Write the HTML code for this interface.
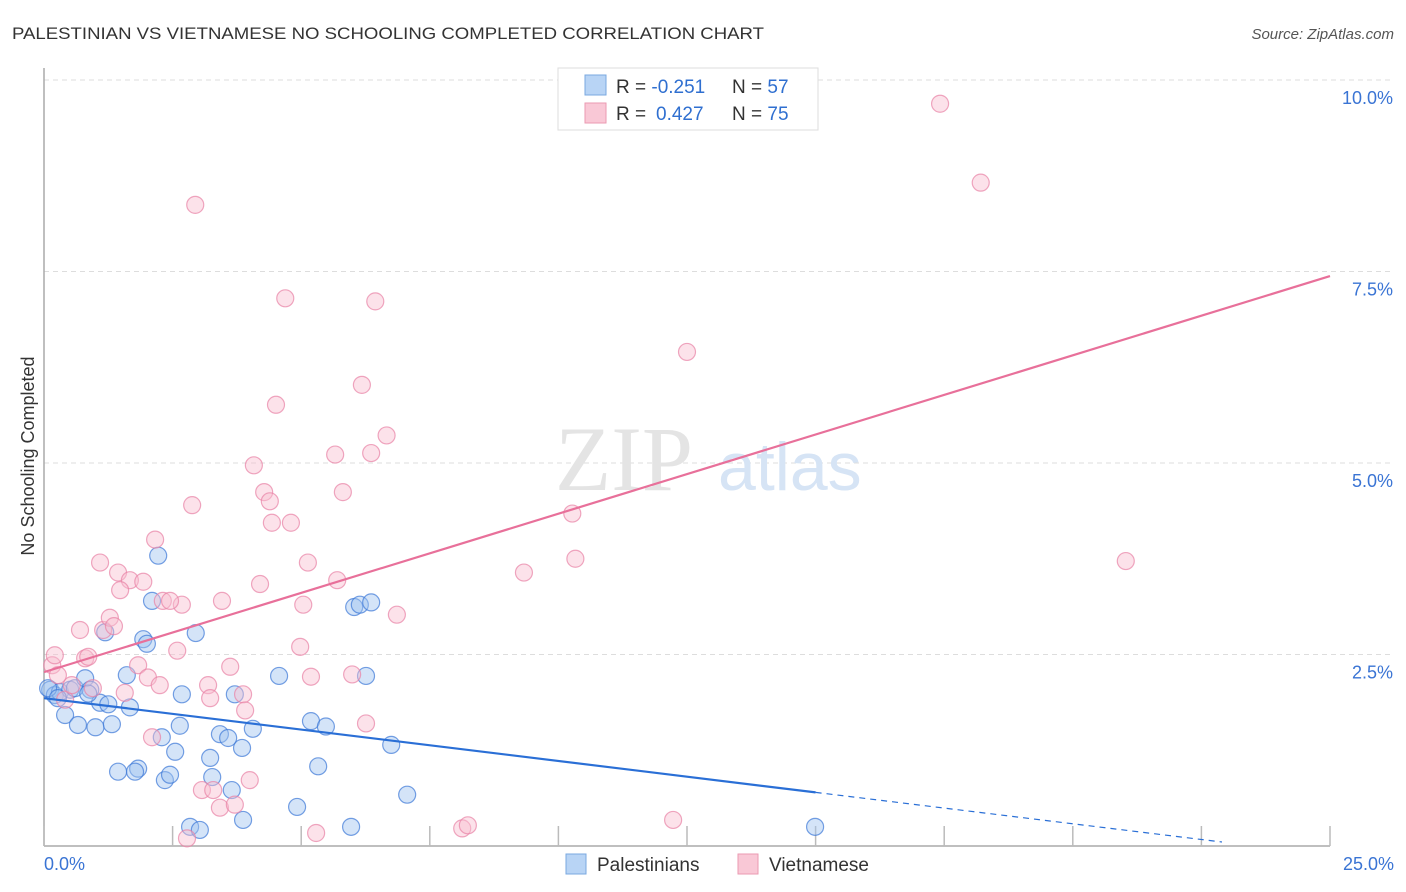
<!DOCTYPE html>
<html><head><meta charset="utf-8"><style>
body{margin:0;background:#fff;font-family:"Liberation Sans",sans-serif;}
svg{display:block}
</style></head><body>
<svg id="c" width="1406" height="892" xmlns="http://www.w3.org/2000/svg">
<text x="12" y="39" font-size="17" fill="#333" textLength="752" lengthAdjust="spacingAndGlyphs">PALESTINIAN VS VIETNAMESE NO SCHOOLING COMPLETED CORRELATION CHART</text>
<text x="1394" y="39" font-size="15" fill="#555" font-style="italic" text-anchor="end">Source: ZipAtlas.com</text>
<text x="34" y="456" font-size="18" fill="#333" text-anchor="middle" transform="rotate(-90 34 456)">No Schooling Completed</text>
<g id="grid"></g>
<text x="555" y="490" font-size="92" fill="#e4e4e4" font-family="Liberation Serif,serif">ZIP</text>
<text x="718" y="490" font-size="68" fill="#d6e4f5">atlas</text>
<g id="axes"></g>
<g id="pts"></g>
<g id="trend"></g>
<g>
<rect x="558" y="68" width="260" height="62" fill="#fff" stroke="#ddd"/>
<rect x="585" y="75" width="21" height="20" fill="#b8d4f5" stroke="#7aa8e0"/>
<rect x="585" y="103" width="21" height="20" fill="#f9c8d6" stroke="#eb9ab2"/>
<text x="616" y="93" font-size="19" fill="#333">R = <tspan fill="#2f6fd0">-0.251</tspan><tspan x="732">N = </tspan><tspan fill="#2f6fd0">57</tspan></text>
<text x="616" y="120" font-size="19" fill="#333">R = <tspan x="656" fill="#2f6fd0">0.427</tspan><tspan x="732">N = </tspan><tspan fill="#2f6fd0">75</tspan></text>
</g>
<g>
<rect x="566" y="854" width="20" height="20" fill="#b8d4f5" stroke="#7aa8e0"/>
<text x="597" y="871" font-size="19" fill="#333">Palestinians</text>
<rect x="738" y="854" width="20" height="20" fill="#f9c8d6" stroke="#eb9ab2"/>
<text x="769" y="871" font-size="19" fill="#333">Vietnamese</text>
</g>
</svg>
<script>
const xTicks=[0,2.5,5,7.5,10,12.5,15,17.5,20,22.5,25];
const yTicks=[2.5,5,7.5,10];
const yTickLabels=["2.5%","5.0%","7.5%","10.0%"];
const palX=[0.12,0.21,0.31,0.41,0.51,0.6,0.66,0.8,0.9,1,1.09,1.19,1.25,1.32,1.44,1.61,1.67,1.83,1.93,2.0,2.1,2.22,2.29,2.35,2.45,2.55,2.64,2.68,2.84,2.95,3.03,3.23,3.27,3.42,3.58,3.65,3.71,3.85,3.87,4.06,4.57,4.92,5.19,5.33,5.48,5.97,6.03,6.14,6.26,6.36,6.75,7.06,14.99,0.08,0.27,0.86,1.77];
const palY=[2.04,1.97,2.01,1.71,2.04,2.06,1.58,2.19,2.04,1.55,1.87,2.79,1.85,1.59,0.97,2.23,1.81,1.01,2.7,2.64,3.2,3.79,1.42,0.86,0.93,1.23,1.57,1.98,0.25,2.78,0.21,1.15,0.9,1.46,1.41,0.73,1.98,1.28,0.34,1.53,2.22,0.51,1.63,1.04,1.56,0.25,3.12,3.15,2.22,3.18,1.32,0.67,0.25,2.06,1.93,1.99,0.97];
const vieX=[0.16,0.21,0.27,0.41,0.54,0.7,0.8,0.86,0.95,1.09,1.15,1.28,1.36,1.44,1.57,1.67,1.83,1.93,2.02,2.1,2.16,2.25,2.31,2.59,2.68,2.78,2.88,2.94,3.07,3.19,3.23,3.29,3.42,3.46,3.62,3.71,3.87,4.08,4.2,4.28,4.39,4.43,4.51,4.69,4.8,4.98,5.04,5.13,5.19,5.29,5.66,5.7,5.81,5.99,6.18,6.26,6.36,6.44,6.66,6.86,8.13,8.24,9.33,10.27,10.33,12.23,12.5,17.42,18.21,21.03,1.48,2.45,3.91,4.0];
const vieY=[2.36,2.49,2.23,1.91,2.1,2.82,2.45,2.47,2.06,3.7,2.82,2.98,2.87,3.57,2.0,3.47,2.36,3.45,2.2,1.42,4.0,2.1,3.2,2.55,3.15,0.1,4.45,8.37,0.73,2.1,1.93,0.73,0.5,3.2,2.34,0.54,1.98,4.97,3.42,4.62,4.5,4.22,5.76,7.15,4.22,2.6,3.15,3.7,2.21,0.17,5.11,3.47,4.62,2.24,6.02,1.6,5.13,7.11,5.36,3.02,0.23,0.27,3.57,4.34,3.75,0.34,6.45,9.69,8.66,3.72,3.34,3.2,1.77,0.86];
const palTrend=[1.93,-0.082];
const vieTrend=[2.27,0.2068];
const palSolidEnd=15;
const palDashEnd=22.9;
const NS='http://www.w3.org/2000/svg';
const X0=44,X1=1330,Y0=846,Y1=80;
const xs=v=>X0+(X1-X0)*v/25, ys=v=>Y0-(Y0-Y1)*v/10;
function mk(tag,attrs,parent){const e=document.createElementNS(NS,tag);for(const k in attrs)e.setAttribute(k,attrs[k]);parent.appendChild(e);return e;}
const grid=document.getElementById('grid'),axes=document.getElementById('axes'),pts=document.getElementById('pts'),trend=document.getElementById('trend');
yTicks.forEach((t,i)=>{
  const l=mk('line',{x1:X0,x2:1394,y1:ys(t),y2:ys(t),stroke:'#ddd','stroke-dasharray':'5,4'},grid);
  
  
  const tx=mk('text',{x:1393,y:ys(t)+24,'font-size':18,fill:'#3a74d4','text-anchor':'end'},axes);
  tx.textContent=yTickLabels[i];
  
  
});
mk('line',{x1:X0,x2:X0,y1:68,y2:Y0,stroke:'#aaa','stroke-width':1.5},axes);
mk('line',{x1:X0,x2:X1,y1:Y0,y2:Y0,stroke:'#aaa','stroke-width':1.5},axes);
xTicks.forEach(t=>{
  const l=mk('line',{x1:xs(t),x2:xs(t),y1:Y0-20,y2:Y0,stroke:'#bbb','stroke-width':1.5},axes);
  
  
});
const xl=mk('text',{x:44,y:870,'font-size':18,fill:'#3a74d4'},axes);xl.textContent='0.0%';


const xr=mk('text',{x:1394,y:870,'font-size':18,fill:'#3a74d4','text-anchor':'end'},axes);xr.textContent='25.0%';


palX.forEach((v,i)=>{
  const c=mk('circle',{cx:xs(v),cy:ys(palY[i]),r:8.5,fill:'rgba(160,196,240,0.45)',stroke:'rgba(60,120,215,0.7)','stroke-width':1.2},pts);
  
  
});
vieX.forEach((v,i)=>{
  const c=mk('circle',{cx:xs(v),cy:ys(vieY[i]),r:8.5,fill:'rgba(248,190,208,0.45)',stroke:'rgba(232,130,165,0.7)','stroke-width':1.2},pts);
  
  
});
const pf=x=>palTrend[0]+palTrend[1]*x, vf=x=>vieTrend[0]+vieTrend[1]*x;
const t1=mk('line',{x1:xs(0),y1:ys(vf(0)),x2:xs(25),y2:ys(vf(25)),stroke:'#e8709a','stroke-width':2.2},trend);


const t2=mk('line',{x1:xs(0),y1:ys(pf(0)),x2:xs(palSolidEnd),y2:ys(pf(palSolidEnd)),stroke:'#2a6fd6','stroke-width':2.2},trend);


const t3=mk('line',{x1:xs(palSolidEnd),y1:ys(pf(palSolidEnd)),x2:xs(palDashEnd),y2:ys(pf(palDashEnd)),stroke:'#2a6fd6','stroke-width':1.2,'stroke-dasharray':'6,5'},trend);


</script>
</body></html>
